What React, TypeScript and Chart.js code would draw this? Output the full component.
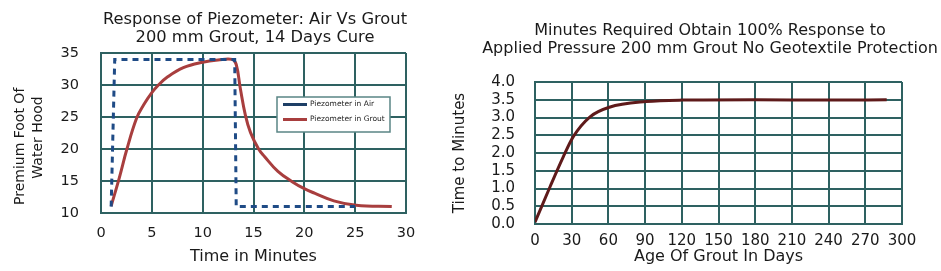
import React, { useEffect, useRef } from "react";
import { Chart, registerables } from "chart.js";

Chart.register(...registerables);

// ---------- Data: left chart (Response of Piezometer) ----------
const airX = [1.0, 1.35, 13.15, 13.3, 25.0];
const airY = [11, 34, 34, 11, 11];
const groutX = [1.0, 1.8, 2.55, 3.5, 4.2, 5.0, 5.65, 6.5, 8.1, 10.0, 11.5, 12.9, 13.3, 13.7, 14.2, 14.7, 15.5, 16.1, 17.4, 18.8, 20.0, 21.0, 22.9, 25.1, 28.6];
const groutY = [11.1, 15.5, 20.0, 24.8, 26.9, 28.8, 30.0, 31.2, 32.7, 33.55, 33.9, 34, 33.2, 29.5, 25.3, 22.6, 20.0, 18.8, 16.5, 14.9, 13.8, 13.1, 11.9, 11.2, 11.0];
const leftXTicks = [0, 5, 10, 15, 20, 25, 30];
const leftYTicks = [10, 15, 20, 25, 30, 35];

// ---------- Data: right chart (Minutes required) ----------
const ageDays = [0, 12.3, 23.2, 31.3, 45, 60.8, 91, 120, 180, 240, 287.5];
const responseMin = [0.05, 1.05, 1.9, 2.46, 3.02, 3.29, 3.45, 3.49, 3.5, 3.49, 3.5];
const rightXTicks = [0, 30, 60, 90, 120, 150, 180, 210, 240, 270, 300];
const rightYTicks = [0, 0.5, 1, 1.5, 2, 2.5, 3, 3.5, 4];

const FONT = "'DejaVu Sans', sans-serif";
const GRID = "#2e6161";
const TEXT = "#1a1a1a";
const BLUE = "#1f4b86";
const RED = "#a83e3e";
const DARKRED = "#5e1a1a";

const setTicks = (vals: number[]) => (scale: any) => {
  scale.ticks = vals.map((v) => ({ value: v }));
};

const insideLegend = {
  id: "insideLegend",
  afterDatasetsDraw(chart: any) {
    const { ctx, chartArea } = chart;
    const x = chartArea.left + 176;
    const y = chartArea.top + 44;
    const w = 113;
    const h = 35;
    ctx.save();
    ctx.fillStyle = "#ffffff";
    ctx.fillRect(x, y, w, h);
    ctx.strokeStyle = "#5a8585";
    ctx.lineWidth = 1.5;
    ctx.strokeRect(x, y, w, h);
    chart.data.datasets.forEach((ds: any, i: number) => {
      const ly = y + 7.5 + i * 15;
      ctx.strokeStyle = i === 0 ? "#1e3f66" : ds.borderColor;
      ctx.lineWidth = 3;
      ctx.setLineDash([]);
      ctx.beginPath();
      ctx.moveTo(x + 6, ly);
      ctx.lineTo(x + 30, ly);
      ctx.stroke();
      ctx.fillStyle = "#222";
      ctx.font = `7.5px ${FONT}`;
      ctx.textBaseline = "middle";
      ctx.textAlign = "left";
      ctx.fillText(ds.label, x + 33, ly);
    });
    ctx.restore();
  },
};

function LeftChart() {
  const ref = useRef<HTMLCanvasElement>(null);
  useEffect(() => {
    if (!ref.current) return;
    const chart = new Chart(ref.current, {
      type: "line",
      data: {
        datasets: [
          {
            label: "Piezometer in Air",
            data: airX.map((x, i) => ({ x, y: airY[i] })),
            borderColor: BLUE,
            borderWidth: 3,
            borderDash: [6, 5],
            pointRadius: 0,
            tension: 0,
            fill: false,
          },
          {
            label: "Piezometer in Grout",
            data: groutX.map((x, i) => ({ x, y: groutY[i] })),
            borderColor: RED,
            borderWidth: 3,
            pointRadius: 0,
            tension: 0.4,
            fill: false,
          },
        ],
      },
      options: {
        animation: false,
        responsive: false,
        layout: { padding: 0 },
        plugins: {
          legend: { display: false },
          tooltip: { enabled: false },
          title: {
            display: true,
            text: ["Response of Piezometer: Air Vs Grout", "200 mm Grout, 14 Days Cure"],
            color: TEXT,
            font: { family: FONT, size: 16.3, weight: "normal", lineHeight: 18 / 16.3 },
            padding: { top: 11, bottom: 6 },
          },
        },
        scales: {
          x: {
            type: "linear",
            min: 0,
            max: 30,
            afterBuildTicks: setTicks(leftXTicks),
            afterFit: (s: any) => {
              s.height = 58;
            },
            grid: { color: GRID, lineWidth: 2, drawTicks: false },
            border: { color: GRID, width: 2 },
            ticks: { color: TEXT, font: { family: FONT, size: 14.5 }, padding: 12, maxRotation: 0, autoSkip: false },
            title: {
              display: true,
              text: "Time in Minutes",
              color: TEXT,
              font: { family: FONT, size: 16, lineHeight: 1.2 },
              padding: { top: 0, bottom: 5 },
            },
          },
          y: {
            type: "linear",
            min: 10,
            max: 35,
            afterBuildTicks: setTicks(leftYTicks),
            afterFit: (s: any) => {
              s.width = 101;
            },
            grid: { color: GRID, lineWidth: 2, drawTicks: false },
            border: { color: GRID, width: 2 },
            ticks: { color: TEXT, font: { family: FONT, size: 14.5 }, padding: 22, autoSkip: false },
            title: {
              display: true,
              text: ["Premium Foot Of      ", "Water Hood  "],
              color: TEXT,
              font: { family: FONT, size: 14, lineHeight: 18 / 14 },
              padding: { top: 11, bottom: 0 },
            },
          },
          spacer: {
            type: "linear",
            position: "right",
            afterFit: (s: any) => {
              s.width = 104;
            },
            grid: { display: false, drawTicks: false },
            border: { display: false },
            ticks: { display: false },
          },
        },
      } as any,
      plugins: [insideLegend],
    });
    return () => chart.destroy();
  }, []);
  return (
    <canvas
      ref={ref}
      width={510}
      height={271}
      style={{ position: "absolute", left: 0, top: 0, width: 510, height: 271 }}
    />
  );
}

function RightChart() {
  const ref = useRef<HTMLCanvasElement>(null);
  useEffect(() => {
    if (!ref.current) return;
    const chart = new Chart(ref.current, {
      type: "line",
      data: {
        datasets: [
          {
            label: "Time to 100% response",
            data: ageDays.map((x, i) => ({ x, y: responseMin[i] })),
            borderColor: DARKRED,
            borderWidth: 3,
            pointRadius: 0,
            cubicInterpolationMode: "monotone",
            fill: false,
          },
        ],
      },
      options: {
        animation: false,
        responsive: false,
        layout: { padding: 0 },
        plugins: {
          legend: { display: false },
          tooltip: { enabled: false },
          title: {
            display: true,
            text: [
              "Minutes Required Obtain 100% Response to",
              "Applied Pressure 200 mm Grout No Geotextile Protection",
            ],
            color: TEXT,
            font: { family: FONT, size: 16, weight: "normal", lineHeight: 1.125 },
            padding: { top: 22, bottom: 24 },
          },
        },
        scales: {
          x: {
            type: "linear",
            min: 0,
            max: 300,
            afterBuildTicks: setTicks(rightXTicks),
            afterFit: (s: any) => {
              s.height = 47;
            },
            grid: { color: GRID, lineWidth: 2, drawTicks: false },
            border: { color: GRID, width: 2 },
            ticks: { color: TEXT, font: { family: FONT, size: 15 }, padding: 8, maxRotation: 0, autoSkip: false },
            title: {
              display: true,
              text: "Age Of Grout In Days",
              color: TEXT,
              font: { family: FONT, size: 16, lineHeight: 1.2 },
              padding: { top: 0, bottom: 5 },
            },
          },
          y: {
            type: "linear",
            min: 0,
            max: 4,
            afterBuildTicks: setTicks(rightYTicks),
            afterFit: (s: any) => {
              s.width = 95;
            },
            grid: { color: GRID, lineWidth: 2, drawTicks: false },
            border: { color: GRID, width: 2 },
            ticks: {
              color: TEXT,
              font: { family: FONT, size: 15 },
              padding: 20,
              autoSkip: false,
              callback: (v: any) => Number(v).toFixed(1),
            },
            title: {
              display: true,
              text: "Time to Minutes",
              color: TEXT,
              font: { family: FONT, size: 15, lineHeight: 1.2 },
              padding: { top: 11, bottom: 0 },
            },
          },
          spacer: {
            type: "linear",
            position: "right",
            afterFit: (s: any) => {
              s.width = 78;
            },
            grid: { display: false, drawTicks: false },
            border: { display: false },
            ticks: { display: false },
          },
        },
      } as any,
    });
    return () => chart.destroy();
  }, []);
  return (
    <canvas
      ref={ref}
      width={540}
      height={271}
      style={{ position: "absolute", left: 440, top: 0, width: 540, height: 271 }}
    />
  );
}

export default function App() {
  return (
    <div
      style={{
        position: "absolute",
        left: 0,
        top: 0,
        width: 941,
        height: 271,
        overflow: "hidden",
        background: "#ffffff",
      }}
    >
      <LeftChart />
      <RightChart />
    </div>
  );
}
